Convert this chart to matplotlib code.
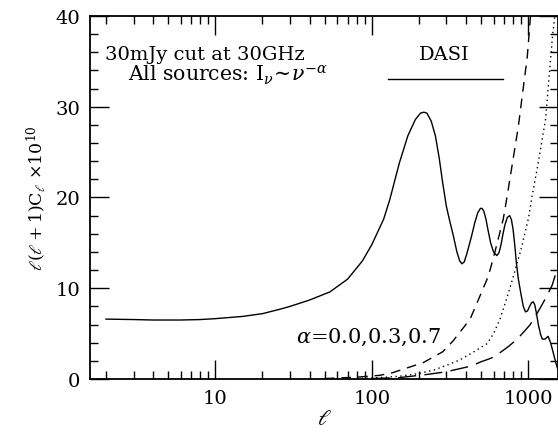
import matplotlib
matplotlib.use("Agg")
import matplotlib.pyplot as plt
from matplotlib.ticker import FixedLocator, MultipleLocator, NullFormatter

plt.rcParams['font.family'] = 'DejaVu Serif'
plt.rcParams['mathtext.fontset'] = 'dejavuserif'

# CMB spectrum (DASI), l(l+1)C_l x 1e10
ell_cmb = [2, 3, 4, 5, 6, 8, 10, 15, 20, 26, 30, 40, 54, 70, 87, 100, 119, 130, 150,
           170, 190, 205, 215, 225, 240, 255, 270, 284, 300, 316, 331, 350, 365, 377,
           390, 405, 420, 435, 455, 475, 495, 507, 520, 537, 555, 575, 600, 630, 650,
           670, 690, 710, 735, 760, 780, 800, 820, 840, 865, 900, 930, 960, 990, 1020,
           1050, 1077, 1100, 1130, 1160, 1200, 1230, 1280, 1340, 1390, 1450, 1500, 1550]
cl_cmb = [6.6, 6.55, 6.5, 6.5, 6.5, 6.55, 6.65, 6.9, 7.2, 7.7, 8.0, 8.7, 9.6, 11.0,
          13.0, 14.8, 17.6, 19.7, 23.8, 26.8, 28.6, 29.3, 29.4, 29.3, 28.4, 26.8, 24.3,
          21.6, 19.0, 17.3, 15.9, 14.0, 13.0, 12.7, 12.9, 13.8, 14.8, 15.8, 17.2, 18.3,
          18.8, 18.8, 18.5, 17.6, 16.3, 15.0, 14.0, 13.6, 13.9, 14.8, 16.0, 17.0, 17.8,
          18.0, 17.6, 16.5, 14.8, 12.8, 11.0, 9.3, 8.0, 7.4, 7.5, 8.0, 8.4, 8.5, 8.2,
          7.2, 6.0, 4.9, 4.4, 4.4, 4.7, 4.0, 2.8, 1.8, 1.0]

# point-source contributions, alpha = 0.0, 0.3, 0.7
ell_a00 = [50, 80, 112, 136, 213, 284, 331, 425, 493, 555, 598, 692, 731, 864, 986, 1031, 1070]
cl_a00 = [0.05, 0.2, 0.4, 0.7, 1.8, 3.0, 4.2, 6.6, 9.2, 11.3, 13.3, 17.6, 20.0, 27.8, 35.5, 39.7, 42.5]

ell_a03 = [80, 112, 150, 200, 250, 300, 365, 450, 546, 600, 660, 745, 800, 900, 1000,
           1060, 1150, 1290, 1425, 1500]
cl_a03 = [0.05, 0.15, 0.3, 0.6, 1.0, 1.5, 2.1, 3.0, 3.9, 5.0, 6.6, 9.4, 11.2, 14.3, 17.6,
          20.2, 23.5, 28.6, 37.5, 41.0]

ell_a07 = [100, 150, 225, 300, 425, 500, 580, 660, 750, 850, 950, 1030, 1100, 1200,
           1300, 1420, 1550]
cl_a07 = [0.05, 0.15, 0.5, 0.8, 1.4, 1.9, 2.3, 2.9, 3.6, 4.4, 5.3, 6.0, 6.8, 7.9,
          9.0, 10.3, 12.4]

fig = plt.figure(figsize=(5.58, 4.35), dpi=100)
ax = fig.add_axes([90 / 558, 55 / 435, 468 / 558, 363 / 435])

ax.plot(ell_cmb, cl_cmb, color='black', lw=1.0)
ax.plot(ell_a00, cl_a00, color='black', lw=1.0, dashes=(7, 5))
ax.plot(ell_a03, cl_a03, color='black', lw=1.0, dashes=(1, 2.5))
ax.plot(ell_a07, cl_a07, color='black', lw=1.0, dashes=(13, 6))

ax.set_xscale('log')
ax.set_xlim(1.58, 1550)
ax.set_ylim(0, 40)

ax.xaxis.set_major_locator(FixedLocator([10, 100, 1000]))
ax.xaxis.set_minor_locator(FixedLocator([2, 3, 4, 5, 6, 7, 8, 9, 20, 30, 40, 50, 60, 70, 80, 90,
                                         200, 300, 400, 500, 600, 700, 800, 900]))
ax.xaxis.set_minor_formatter(NullFormatter())
ax.set_xticklabels(['10', '100', '1000'])
ax.yaxis.set_major_locator(MultipleLocator(10))
ax.yaxis.set_minor_locator(MultipleLocator(2))

ax.tick_params(which='both', direction='in', top=True, right=True, labelsize=14,
               width=1.0, pad=7)
ax.tick_params(which='major', length=14)
ax.tick_params(which='minor', length=6)
for s in ax.spines.values():
    s.set_linewidth(1.3)

ax.set_xlabel(r'$\ell$', fontsize=16, labelpad=0)
ax.set_ylabel(r'$\ell(\ell+1)$C$_\ell$ $\times10^{10}$', fontsize=12.5, labelpad=5)

ax.text(0.246, 0.895, '30mJy cut at 30GHz', transform=ax.transAxes,
        ha='center', va='center', fontsize=14)
ax.text(0.295, 0.840, r'All sources: I$_\nu\!\sim\!\nu^{-\alpha}$', transform=ax.transAxes,
        ha='center', va='center', fontsize=14.7)
ax.text(0.756, 0.895, 'DASI', transform=ax.transAxes, ha='center', va='center', fontsize=14)
ax.plot([0.637, 0.882], [0.826, 0.826], transform=ax.transAxes, color='black', lw=1.0)
ax.text(0.594, 0.118, r'$\alpha$=0.0,0.3,0.7', transform=ax.transAxes,
        ha='center', va='center', fontsize=15)

fig.savefig('out.png', dpi=100)
